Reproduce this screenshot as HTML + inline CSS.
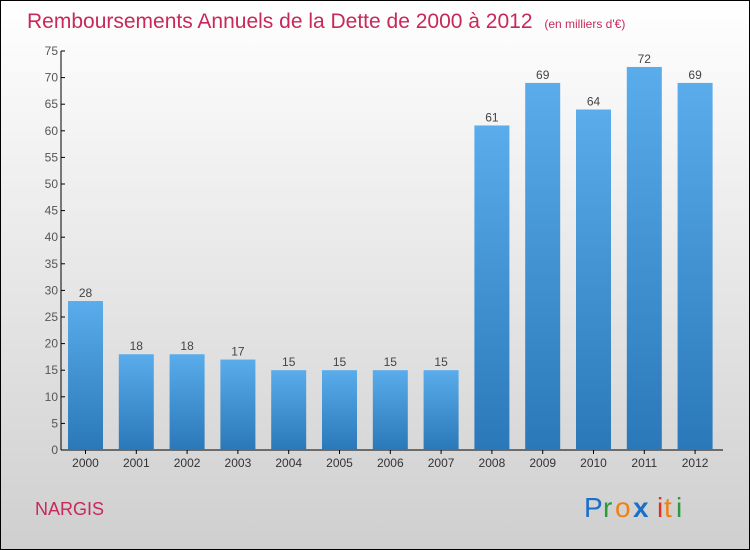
<!DOCTYPE html>
<html><head><meta charset="utf-8"><style>
body{margin:0}
#c{position:relative;width:748px;height:548px;border:1px solid #000;background:linear-gradient(#ffffff,#cfcfcf);font-family:"Liberation Sans",sans-serif;overflow:hidden}
</style></head><body>
<div id="c">
<svg width="748" height="548" id="s">
<defs><linearGradient id="g" x1="0" y1="0" x2="0" y2="1"><stop offset="0" stop-color="#5aaceb"/><stop offset="1" stop-color="#2a78b8"/></linearGradient></defs>
<text x="26" y="27" font-size="21" fill="#c8285a">Remboursements Annuels de la Dette de 2000 à 2012 <tspan font-size="12" dx="6">(en milliers d'€)</tspan></text>
<text x="34" y="514" font-size="18" fill="#c8285a">NARGIS</text>
<g font-size="28">
<text x="583" y="516" fill="#1a6fc8">P</text><text x="602" y="516" fill="#2a9a3a">r</text><text x="614" y="516" fill="#f08010">o</text><text x="632" y="516" fill="#1a6fc8" font-weight="bold">x</text><text x="656" y="516" fill="#e03020">i</text><text x="663" y="516" fill="#f08010">t</text><text x="675" y="516" fill="#2a9a3a">i</text></g>
</svg>
</div>
<script>
const years=["2000","2001","2002","2003","2004","2005","2006","2007","2008","2009","2010","2011","2012"];
const values=[28,18,18,17,15,15,15,15,61,69,64,72,69];
const ticks=[0,5,10,15,20,25,30,35,40,45,50,55,60,65,70,75];
const s=document.getElementById('s'),NS="http://www.w3.org/2000/svg";
const y0=449,ppu=5.32,x0=84.5,step=50.8,bw=35;
const Y=v=>y0-v*ppu, X=i=>x0+i*step;
function mk(t,a){const e=document.createElementNS(NS,t);for(const k in a)e.setAttribute(k,a[k]);s.appendChild(e);return e;}
let ax=mk('line',{x1:60,y1:Y(75),x2:60,y2:y0,stroke:'#000'});


let xa=mk('line',{x1:60,y1:y0,x2:722,y2:y0,stroke:'#000'});


ticks.forEach(t=>{
 let l=mk('line',{x1:60,y1:Y(t),x2:64,y2:Y(t),stroke:'#000'});
 
 
 let tx=mk('text',{x:57,y:Y(t)+4,'text-anchor':'end','font-size':12,fill:'#555'});tx.textContent=t;
 
 
});
years.forEach((yr,i)=>{
 let v=values[i];
 let r=mk('rect',{x:X(i)-bw/2,y:Y(v),width:bw,height:v*ppu,fill:'url(#g)'});
 
 
 let vl=mk('text',{x:X(i),y:Y(v)-4,'text-anchor':'middle','font-size':12,fill:'#444'});vl.textContent=v;
 
 
 let tk=mk('line',{x1:X(i),y1:y0,x2:X(i),y2:y0+4,stroke:'#000'});
 
 
 let xl=mk('text',{x:X(i),y:y0+17,'text-anchor':'middle','font-size':12,fill:'#333'});xl.textContent=yr;
 
 
});
</script>
</body></html>
